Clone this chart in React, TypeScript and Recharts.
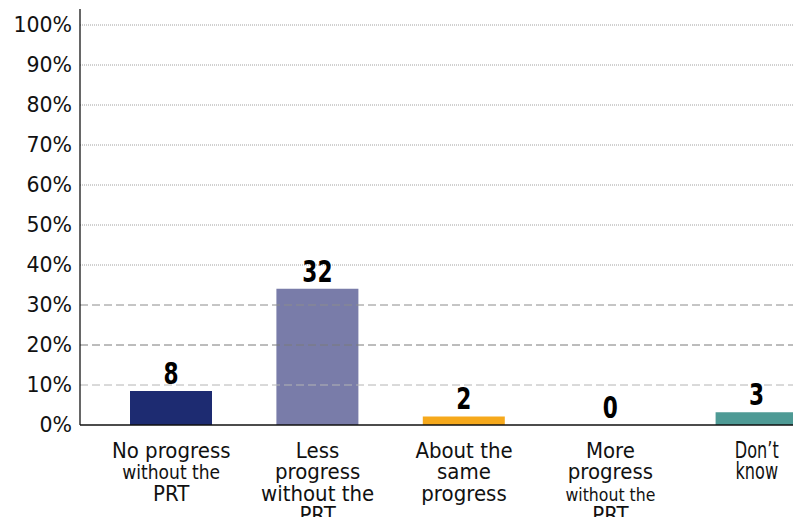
import { BarChart, Bar, XAxis, YAxis, ReferenceLine, LabelList, Cell } from 'recharts';

// Survey answers: how would the pupils have progressed without the PRT
const categories = [
  'No progress without the PRT',
  'Less progress without the PRT',
  'About the same progress',
  'More progress without the PRT',
  'Don’t know',
];

// Category names broken into the lines shown under each bar
const tickLines = [
  ['No progress', 'without the', 'PRT'],
  ['Less', 'progress', 'without the', 'PRT'],
  ['About the', 'same', 'progress'],
  ['More', 'progress', 'without the', 'PRT'],
  ['Don’t', 'know'],
];

const counts = [8, 32, 2, 0, 3];
const totalRespondents = 94;

const yTicks = [0, 10, 20, 30, 40, 50, 60, 70, 80, 90, 100];

const COLORS = ['#1d2b71', '#797ca9', '#f6a91c', 'transparent', '#4e9a95'];

const chartData = categories.map((name, i) => ({
  name,
  count: counts[i],
  pct: (counts[i] / totalRespondents) * 100,
}));

// Some tick lines are set smaller / narrower than the rest
const lineStyle = (cat: number, line: number) => {
  if (cat === 0 && line === 1) return { size: 19, squeeze: 0.9 };
  if (cat === 3 && line === 2) return { size: 18.5, squeeze: 0.85 };
  if (cat === 4) return { size: 23, squeeze: 0.7 };
  return { size: 22, squeeze: 0.9 };
};

const CategoryTick = ({ x, y, payload }: any) => {
  const cat = payload.index;
  const lines = tickLines[cat] || [];
  return (
    <g>
      {lines.map((text, j) => {
        const { size, squeeze } = lineStyle(cat, j);
        return (
          <text
            key={j}
            transform={`translate(${x},${y + 24.5 + j * 21.5}) scale(${squeeze},1)`}
            textAnchor="middle"
            fontSize={size}
            fontFamily="DejaVu Sans"
            fill="#111"
          >
            {text}
          </text>
        );
      })}
    </g>
  );
};

const CountLabel = (props: any) => {
  const x = Number(props.x);
  const y = Number(props.y);
  const width = Number(props.width);
  const height = Number(props.height) || 0;
  // a zero count still gets its number, sitting on the axis
  const top = props.value === 0 ? y + height : y;
  return (
    <text
      transform={`translate(${x + width / 2},${top - 7}) scale(0.7,1)`}
      textAnchor="middle"
      fontFamily="DejaVu Sans"
      fontWeight="bold"
      fontSize={31}
      fill="#000"
    >
      {props.value}
    </text>
  );
};

// Upper grid lines are fine dots, the lower ones dashed
const gridStyle = (v: number) => {
  if (v >= 40) return { stroke: '#a0a0a0', dash: '1 1' };
  if (v === 30) return { stroke: '#8c8c8c', dash: '8 4' };
  if (v === 20) return { stroke: '#7a7a7a', dash: '8 4' };
  return { stroke: '#b4b4b4', dash: '8 4' };
};

export default function App() {
  return (
    <div style={{ margin: -8, width: 801, height: 525, overflow: 'hidden', background: '#fff' }}>
      <BarChart
        width={830}
        height={525}
        data={chartData}
        margin={{ top: 9, right: 0, bottom: 0, left: 0 }}
      >
        <YAxis
          domain={[0, 104]}
          ticks={yTicks}
          interval={0}
          width={80}
          allowDataOverflow
          tickFormatter={(v) => `${v}%`}
          tickLine={false}
          axisLine={{ stroke: '#000', strokeWidth: 1.2 }}
          tick={{ fontSize: 20.5, fill: '#111', fontFamily: 'DejaVu Sans' }}
        />
        <XAxis
          dataKey="name"
          height={100}
          interval={0}
          padding={{ left: 18, right: 0 }}
          tickLine={false}
          axisLine={{ stroke: '#111', strokeWidth: 1.5 }}
          tick={<CategoryTick />}
        />
        {yTicks
          .filter((v) => v > 0)
          .map((v) => {
            const g = gridStyle(v);
            return (
              <ReferenceLine
                key={v}
                y={v}
                stroke={g.stroke}
                strokeDasharray={g.dash}
                strokeWidth={1}
              />
            );
          })}
        <Bar dataKey="pct" barSize={82} minPointSize={1} isAnimationActive={false}>
          {chartData.map((entry, index) => (
            <Cell key={`cell-${index}`} fill={COLORS[index]} />
          ))}
          <LabelList dataKey="count" content={CountLabel} />
        </Bar>
      </BarChart>
    </div>
  );
}
